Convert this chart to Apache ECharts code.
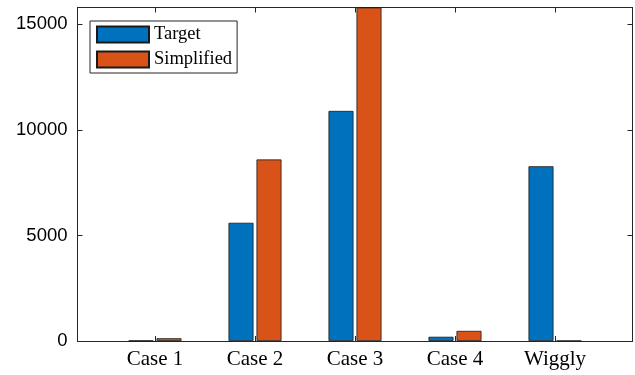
<!DOCTYPE html>
<html>
<head>
<meta charset="utf-8">
<script src="https://cdn.jsdelivr.net/npm/echarts@6/dist/echarts.min.js"></script>
<style>html,body{margin:0;padding:0;background:#fff}#c{width:635px;height:375px}</style>
</head>
<body>
<div id="c"></div>
<script>
const categories = ['Case 1', 'Case 2', 'Case 3', 'Case 4', 'Wiggly'];
const targetValues = [20, 5600, 10900, 200, 8280];
const simplifiedValues = [130, 8600, 15800, 480, 10];
const yTicks = [0, 5000, 10000, 15000];
const seriesNames = ['Target', 'Simplified'];

const positions = categories.map((c, i) => i + 1);
const axisColor = '#262626';
const chart = echarts.init(document.getElementById('c'), null, {renderer: 'canvas'});

function xAxisDef(pos, showLabels) {
  return {
    type: 'value', position: pos, min: 0.225, max: 5.775,
    axisLine: {show: true, onZero: false, lineStyle: {color: axisColor, width: 1}},
    axisTick: {show: true, inside: true, length: 5, customValues: positions, lineStyle: {color: axisColor}},
    axisLabel: {show: showLabels, customValues: positions, formatter: v => categories[Math.round(v) - 1],
      fontFamily: 'Liberation Serif', fontSize: 21, color: '#000', margin: 8},
    splitLine: {show: false}
  };
}
function yAxisDef(pos, showLabels) {
  return {
    type: 'value', position: pos, min: 0, max: 15800,
    axisLine: {show: true, lineStyle: {color: axisColor, width: 1}},
    axisTick: {show: true, inside: true, length: 5, customValues: yTicks, lineStyle: {color: axisColor}},
    axisLabel: {show: showLabels, customValues: yTicks, formatter: v => String(v),
      fontFamily: 'Liberation Sans', fontSize: 18.5, color: '#000', margin: 10},
    splitLine: {show: false}
  };
}

chart.setOption({
  animation: false,
  backgroundColor: '#fff',
  grid: {left: 77.5, right: 2.5, top: 7.5, bottom: 34, containLabel: false},
  xAxis: [xAxisDef('bottom', true), xAxisDef('top', false)],
  yAxis: [yAxisDef('left', true), yAxisDef('right', false)],
  legend: {
    data: seriesNames, orient: 'vertical', left: 90, top: 21,
    itemWidth: 52, itemHeight: 16, itemGap: 6, icon: 'rect',
    padding: [4, 5, 4, 6],
    borderColor: axisColor, borderWidth: 1, backgroundColor: '#fff',
    textStyle: {fontFamily: 'Liberation Serif', fontSize: 18.5, color: '#000'}
  },
  series: [
    {name: seriesNames[0], type: 'bar', xAxisIndex: 0, yAxisIndex: 0,
     barWidth: 25, barGap: '12%',
     itemStyle: {color: '#0072BD', borderColor: '#1a1a1a', borderWidth: 0.8},
     data: positions.map((p, i) => [p, targetValues[i]])},
    {name: seriesNames[1], type: 'bar', xAxisIndex: 0, yAxisIndex: 0,
     barWidth: 25, barGap: '12%',
     itemStyle: {color: '#D95319', borderColor: '#1a1a1a', borderWidth: 0.8},
     data: positions.map((p, i) => [p, simplifiedValues[i]])}
  ]
});
</script>
</body>
</html>
